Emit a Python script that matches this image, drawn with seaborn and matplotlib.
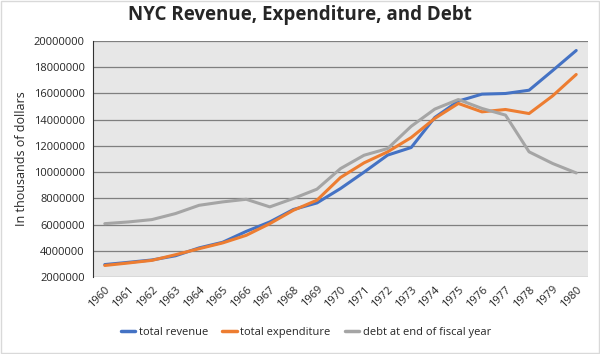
import matplotlib
matplotlib.use("Agg")
import matplotlib.pyplot as plt
import seaborn as sns
import pandas as pd
from matplotlib.lines import Line2D
from matplotlib.patches import Rectangle

years = list(range(1960, 1981))
revenue = [2950000, 3120000, 3300000, 3620000, 4220000, 4650000, 5480000, 6200000, 7150000, 7650000,
           8750000, 10000000, 11300000, 11880000, 14170000, 15420000, 15950000, 16000000, 16250000,
           17750000, 19280000]
expenditure = [2880000, 3070000, 3270000, 3700000, 4160000, 4600000, 5180000, 6070000, 7090000, 7860000,
               9590000, 10710000, 11550000, 12640000, 14100000, 15240000, 14600000, 14780000, 14470000,
               15820000, 17450000]
debt = [6070000, 6200000, 6380000, 6840000, 7470000, 7730000, 7930000, 7350000, 7990000, 8700000,
        10270000, 11290000, 11800000, 13500000, 14810000, 15540000, 14860000, 14350000, 11550000,
        10660000, 9940000]
series_names = ["total revenue", "total expenditure", "debt at end of fiscal year"]
colors = ["#4472C4", "#ED7D31", "#A5A5A5"]

df = pd.concat([
    pd.DataFrame({"year": years, "value": vals, "series": name})
    for name, vals in zip(series_names, [revenue, expenditure, debt])
])

sns.set_style("white")
plt.rcParams["font.family"] = ["Open Sans", "DejaVu Sans"]

fig = plt.figure(figsize=(6.0, 3.54), dpi=100)
ax = fig.add_axes([0.155, 0.2175, 0.825, 0.6665])
ax.set_facecolor("#E7E7E7")

sns.lineplot(data=df, x="year", y="value", hue="series", hue_order=series_names,
             palette=colors, linewidth=2.2, ax=ax, legend=False)

ax.set_xlim(1959.5, 1980.5)
ax.set_ylim(2000000, 20000000)
ax.set_yticks(range(2000000, 20000001, 2000000))
ax.set_yticklabels([str(v) for v in range(2000000, 20000001, 2000000)], fontsize=8)
ax.set_xticks(years)
ax.set_xticklabels([str(y) for y in years], rotation=45, fontsize=8, ha="right",
                   rotation_mode="anchor")
ax.yaxis.grid(True, color="#7F7F7F", linewidth=0.9)
ax.set_axisbelow(True)
ax.tick_params(axis="y", length=4, width=0.8, color="#333333", pad=2)
ax.tick_params(axis="x", length=0, pad=5)
for s in ["top", "right", "bottom"]:
    ax.spines[s].set_visible(False)
ax.spines["left"].set_color("#333333")
ax.spines["left"].set_linewidth(0.8)
ax.set_xlabel("")
ax.set_ylabel("In thousands of dollars", fontsize=9, labelpad=4)

fig.suptitle("NYC Revenue, Expenditure, and Debt", fontsize=13.5, fontweight="bold",
             y=0.985)

handles = [Line2D([0], [0], color=c, linewidth=2.5) for c in colors]
fig.legend(handles, series_names, loc="center", bbox_to_anchor=(0.51, 0.06), ncol=3,
           frameon=False, fontsize=8, handlelength=1.3, handletextpad=0.3,
           columnspacing=1.3)

fig.patches.append(Rectangle((0.002, 0.003), 0.996, 0.994, transform=fig.transFigure,
                             fill=False, edgecolor="#D9D9D9", linewidth=1))

fig.savefig("out.png", dpi=100)
